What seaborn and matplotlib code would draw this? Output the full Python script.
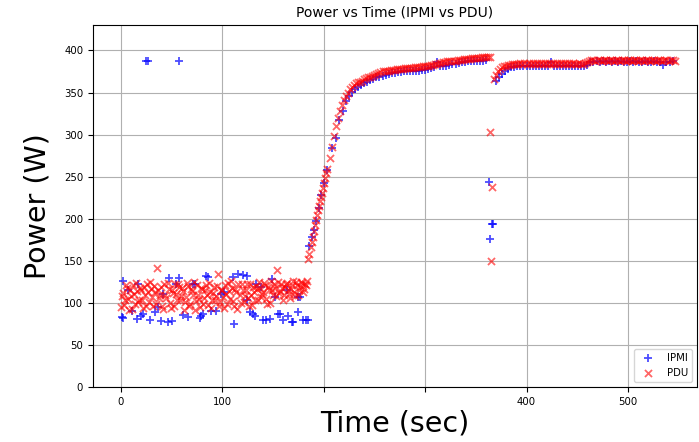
import pandas as pd
import seaborn as sns
import matplotlib.pyplot as plt

# IPMI readings (time in sec, power in W)
ipmi_time = [0.7, 2, 2.3, 7, 10.5, 15.5, 17, 20, 22, 25, 27, 28.6, 33.5, 36.8, 40, 41.7,
             46.6, 47.3, 50, 54.5, 57, 57.5, 61.4, 66, 71.2, 73, 78, 79.5, 81, 84.4, 86,
             89.3, 94, 99, 102, 110.7, 112, 115.6, 120.5, 124, 124, 127, 130.5, 132, 133.7,
             138.6, 140, 143.6, 146.9, 148.6, 151.9, 155, 157, 160, 163.5, 165, 168.5, 170,
             175, 175, 176.6, 180, 183, 185,
             186, 188, 190, 192, 195, 197.7, 200, 203, 208.5, 212.5, 215, 219,
             222, 225, 228, 231, 234, 237, 240, 243, 246, 249, 252, 255, 258, 261, 264, 267,
             270, 273, 276, 279, 282, 285, 288, 291, 294, 297, 300, 303, 306, 309, 312, 315,
             318, 321, 324, 327, 330, 333, 336, 339, 342, 345, 348, 351, 354, 357, 360,
             363, 363.5, 366, 367,
             370, 373, 376, 379, 382, 385, 388, 391, 394, 397, 400, 403, 406, 409, 412, 415,
             418, 421, 424, 427, 430, 433, 436, 439, 442, 445, 448, 451, 454, 457, 460, 463,
             466, 469, 472, 475, 478, 481, 484, 487, 490, 493, 496, 499, 502, 505, 508, 511,
             514, 517, 520, 523, 526, 529, 532, 535, 538, 541, 544]
ipmi_power = [83, 82, 126, 115, 91, 81.5, 122, 85, 87, 387, 387, 80, 89, 95, 79, 111,
              77, 130, 79, 123, 387, 130, 85.5, 83.5, 123, 122, 82, 84, 87, 132, 131,
              91, 91, 111, 113, 131, 75.5, 135, 133, 132, 103, 89, 87, 85, 123,
              119, 79.5, 79.5, 81, 128, 107, 87.5, 87.5, 79.5, 115, 84, 78, 78,
              107, 89, 107, 79.5, 79.5, 79.5,
              168, 178, 187, 198, 213, 228, 243, 258, 284.5, 296, 317, 328,
              340, 346, 351, 354, 357, 359, 361, 363, 365, 366, 368, 369, 370, 371, 372, 373,
              373, 374, 374, 375, 375, 375, 376, 376, 376, 377, 377, 378, 379, 380, 386, 381,
              382, 382, 383, 384, 384, 385, 386, 386, 387, 387, 387, 388, 388, 388, 389,
              244, 176.5, 194, 194,
              364, 368, 372, 376, 378, 380, 380, 381, 381, 381, 382, 381, 382, 381, 382, 381,
              382, 382, 386, 381, 382, 381, 382, 382, 381, 382, 381, 381, 381, 382, 383, 386,
              386, 387, 386, 387, 386, 387, 386, 387, 386, 387, 386, 386, 387, 386, 387, 386,
              386, 387, 386, 386, 387, 386, 386, 383, 386, 386, 387]

# PDU readings (time in sec, power in W)
pdu_time = [0, 2, 4, 6, 8, 10, 12, 14, 16, 18, 20, 22, 24, 26, 28, 30, 32, 34, 36, 38,
            40, 42, 44, 46, 48, 50, 52, 54, 56, 58, 60, 62, 64, 66, 68, 70, 72, 74, 76, 78,
            80, 82, 84, 86, 88, 90, 92, 94, 96, 98, 100, 102, 104, 106, 108, 110, 112, 114,
            116, 118, 120, 122, 124, 126, 128, 130, 132, 134, 136, 138, 140, 142, 144, 146,
            148, 150, 152, 154, 156, 158, 160, 162, 164, 166, 168, 170, 172, 174, 176, 178,
            180, 182, 184,
            1, 3, 5, 7, 9, 11, 13, 15, 17, 19, 21, 23, 25, 27, 29, 31, 33, 35, 37, 39,
            41, 43, 45, 47, 49, 51, 53, 55, 57, 59, 61, 63, 65, 67, 69, 71, 73, 75, 77, 79,
            81, 83, 85, 87, 89, 91, 93, 95, 97, 99, 101, 103, 105, 107, 109, 111, 113, 115,
            117, 119, 121, 123, 125, 127, 129, 131, 133, 135, 137, 139, 141, 143, 145, 147,
            149, 151, 153, 155, 157, 159, 161, 163, 165, 167, 169, 171, 173, 175, 177, 179,
            181, 183,
            185, 186, 187, 188, 189, 190, 191, 192, 193, 194, 195, 196, 197, 198, 199, 200,
            201, 202, 203,
            206, 208, 210, 212, 214, 216, 218, 220, 222, 224, 226, 228, 230, 232, 234, 236,
            238, 240, 242, 244, 246, 248, 250, 252, 254, 256, 258, 260, 262, 264, 266, 268,
            270, 272, 274, 276, 278, 280, 282, 284, 286, 288, 290, 292, 294, 296, 298, 300,
            302, 304, 306, 308, 310, 312, 314, 316, 318, 320, 322, 324, 326, 328, 330, 332,
            334, 336, 338, 340, 342, 344, 346, 348, 350, 352, 354, 356, 358, 360, 362, 364,
            364, 365, 366,
            368, 370, 372, 374, 376, 378, 380, 382, 384, 386, 388, 390, 392, 394, 396, 398,
            400, 402, 404, 406, 408, 410, 412, 414, 416, 418, 420, 422, 424, 426, 428, 430,
            432, 434, 436, 438, 440, 442, 444, 446, 448, 450, 452, 454, 456, 458, 460, 462,
            464, 466, 468, 470, 472, 474, 476, 478, 480, 482, 484, 486, 488, 490, 492, 494,
            496, 498, 500, 502, 504, 506, 508, 510, 512, 514, 516, 518, 520, 522, 524, 526,
            528, 530, 532, 534, 536, 538, 540, 542, 544, 546]
pdu_power = [95, 112, 104, 118, 92, 108, 121, 99, 114, 103,
             116, 94, 110, 122, 101, 117, 97, 113, 141, 106,
             119, 93, 109, 124, 100, 115, 96, 111, 123, 104,
             118, 92, 107, 120, 99, 114, 125, 102, 110, 95,
             117, 106, 121, 98, 113, 103, 119, 108, 135, 101,
             116, 94, 111, 124, 105, 118, 97, 113, 122, 100,
             115, 108, 123, 96, 110, 119, 103, 117, 125, 107,
             113, 121, 99, 116, 126, 109, 118, 139, 112, 122,
             104, 119, 124, 111, 117, 126, 108, 121, 115, 125,
             113, 123, 126,
             108, 98, 121, 105, 116, 93, 111, 124, 101, 118,
             104, 119, 96, 113, 125, 107, 120, 99, 115, 110,
             97, 122, 106, 117, 94, 112, 123, 103, 119, 108,
             114, 101, 124, 96, 117, 109, 92, 121, 105, 118,
             99, 115, 110, 124, 94, 112, 104, 120, 97, 116,
             107, 121, 99, 114, 126, 102, 117, 93, 110, 123,
             101, 116, 106, 122, 98, 113, 120, 104, 118, 111,
             124, 105, 119, 100, 115, 122, 108, 125, 114, 118,
             110, 123, 116, 106, 121, 113, 125, 109, 119, 124,
             117, 121,
             152, 158, 166, 172, 178, 186, 193, 199, 205, 210, 215, 221, 226, 231, 237, 243,
             249, 254, 259,
             272, 285, 298, 310, 320, 328, 335, 341, 346, 350, 354, 357, 359, 361, 362, 363,
             364, 366, 367, 368, 369, 370, 371, 372, 373, 374, 375, 375, 376, 376, 377, 377,
             377, 378, 378, 378, 378, 379, 379, 379, 379, 379, 380, 380, 380, 380, 381, 381,
             382, 382, 383, 383, 384, 384, 385, 385, 386, 386, 387, 387, 388, 388, 388, 389,
             389, 389, 390, 390, 390, 390, 391, 391, 391, 391, 391, 392, 392, 392, 392, 392,
             303, 150, 238,
             366, 371, 376, 378, 380, 381, 382, 383, 383, 384, 384, 384, 384, 385, 384, 385,
             384, 385, 384, 385, 384, 385, 384, 385, 384, 385, 384, 385, 384, 385, 384, 385,
             384, 385, 384, 385, 384, 385, 384, 385, 384, 384, 385, 384, 384, 385, 386, 388,
             389, 389, 388, 389, 389, 388, 389, 389, 388, 389, 389, 388, 389, 389, 388, 389,
             389, 388, 389, 389, 388, 389, 389, 388, 389, 389, 388, 389, 389, 388, 389, 389,
             388, 389, 389, 388, 389, 389, 388, 389, 389, 388]

xtick_values = [0, 100, 200, 300, 400, 500]
xtick_labels = ['0', '100', '', '', '400', '500']

ipmi = pd.DataFrame({'Time': ipmi_time, 'Power': ipmi_power})
pdu = pd.DataFrame({'Time': pdu_time, 'Power': pdu_power})

fig = plt.figure(figsize=(6.99, 4.42), dpi=100)
ax = fig.add_axes([0.133, 0.124, 0.864, 0.819])

sns.scatterplot(data=ipmi, x='Time', y='Power', marker='+', color='blue', alpha=0.7,
                s=26, linewidth=1.3, label='IPMI', ax=ax)
sns.scatterplot(data=pdu, x='Time', y='Power', marker='x', color='red', alpha=0.6,
                s=26, linewidth=1.3, label='PDU', ax=ax)

ax.set_xlim(-27.5, 568)
ax.set_ylim(0, 430)
ax.set_xticks(xtick_values)
ax.set_xticklabels(xtick_labels)
ax.set_yticks(range(0, 401, 50))
ax.tick_params(labelsize=7.3)
ax.grid(True, color='#b0b0b0', linewidth=0.8)
ax.set_axisbelow(True)

ax.set_title("Power vs Time (IPMI vs PDU)", fontsize=10)
ax.set_xlabel("Time (sec)", fontsize=20.5, labelpad=2)
ax.set_ylabel("Power (W)", fontsize=20.5, labelpad=9)
ax.legend(loc='lower right', fontsize=7.3)

plt.savefig('out.png', dpi=100)
